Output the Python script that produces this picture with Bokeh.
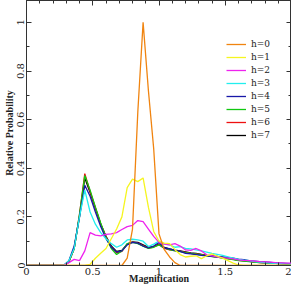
from bokeh.plotting import figure
from bokeh.models import (LinearAxis, Range1d, Legend, LegendItem,
                          SingleIntervalTicker, CustomJSTickFormatter)
from bokeh.embed import file_html
from bokeh.resources import INLINE

# Magnification bins
magnification = [0.00, 0.04, 0.08, 0.12, 0.16, 0.20, 0.24, 0.28, 0.32, 0.36,
                 0.40, 0.44, 0.48, 0.52, 0.56, 0.60, 0.64, 0.68, 0.72, 0.76,
                 0.80, 0.84, 0.88, 0.92, 0.96, 1.00, 1.04, 1.08, 1.12, 1.16,
                 1.20, 1.24, 1.28, 1.32, 1.36, 1.40, 1.44, 1.48, 1.52, 1.56,
                 1.60, 1.64, 1.68, 1.72, 1.76, 1.80, 1.84, 1.88, 1.92, 1.96,
                 2.00]

h0 = [0, 0, 0, 0, 0, 0, 0, 0, 0, 0,
      0, 0, 0, 0, 0, 0, 0, 0, 0, 0.03,
      0.15, 0.63, 1.0, 0.72, 0.48, 0.13, 0.065, 0.035, 0.012, 0,
      0, 0, 0, 0, 0, 0, 0, 0, 0, 0,
      0, 0, 0, 0, 0, 0, 0, 0, 0, 0,
      0]
h1 = [0, 0, 0, 0, 0, 0, 0, 0, 0, 0,
      0, 0, 0.005, 0.03, 0.05, 0.07, 0.11, 0.15, 0.2, 0.32,
      0.355, 0.345, 0.36, 0.24, 0.14, 0.1, 0.092, 0.09, 0.065, 0.045,
      0.035, 0.038, 0.04, 0.028, 0.04, 0.048, 0.038, 0.03, 0.02, 0.01,
      0.002, 0, 0, 0, 0, 0, 0, 0, 0, 0,
      0]
h2 = [0, 0, 0, 0, 0, 0, 0, 0, 0.012, 0.025,
      0.02, 0.06, 0.135, 0.125, 0.122, 0.128, 0.13, 0.135, 0.148, 0.16,
      0.165, 0.185, 0.18, 0.15, 0.12, 0.095, 0.088, 0.085, 0.09, 0.08,
      0.064, 0.062, 0.07, 0.06, 0.044, 0.04, 0.035, 0.032, 0.03, 0.027,
      0.023, 0.021, 0.02, 0.018, 0.016, 0.015, 0.014, 0.012, 0.011, 0.01,
      0.01]
h3 = [0, 0, 0, 0, 0, 0, 0, 0, 0.02, 0.07,
      0.2, 0.31, 0.22, 0.17, 0.135, 0.11, 0.09, 0.075, 0.085, 0.105,
      0.108, 0.105, 0.1, 0.078, 0.088, 0.1, 0.088, 0.085, 0.075, 0.078,
      0.07, 0.068, 0.064, 0.06, 0.055, 0.05, 0.046, 0.042, 0.035, 0.03,
      0.025, 0.022, 0.02, 0.016, 0.014, 0.012, 0.01, 0.009, 0.008, 0.007,
      0.006]
h4 = [0, 0, 0, 0, 0, 0, 0, 0, 0.02, 0.08,
      0.2, 0.33, 0.285, 0.22, 0.16, 0.11, 0.075, 0.055, 0.06, 0.085,
      0.095, 0.092, 0.08, 0.072, 0.08, 0.095, 0.072, 0.068, 0.062, 0.058,
      0.05, 0.048, 0.045, 0.042, 0.04, 0.038, 0.036, 0.035, 0.033, 0.03,
      0.026, 0.024, 0.02, 0.018, 0.016, 0.015, 0.013, 0.011, 0.01, 0.009,
      0.008]
h5 = [0, 0, 0, 0, 0, 0, 0, 0, 0.015, 0.07,
      0.21, 0.37, 0.31, 0.24, 0.175, 0.115, 0.07, 0.045, 0.06, 0.09,
      0.095, 0.09, 0.08, 0.07, 0.075, 0.085, 0.072, 0.065, 0.06, 0.057,
      0.053, 0.05, 0.047, 0.044, 0.04, 0.037, 0.034, 0.03, 0.027, 0.024,
      0.02, 0.018, 0.016, 0.014, 0.012, 0.011, 0.01, 0.009, 0.008, 0.007,
      0.006]
h6 = [0, 0, 0, 0, 0, 0, 0, 0, 0.015, 0.07,
      0.21, 0.378, 0.305, 0.238, 0.172, 0.118, 0.075, 0.052, 0.058, 0.088,
      0.096, 0.092, 0.082, 0.072, 0.076, 0.086, 0.07, 0.064, 0.061, 0.058,
      0.054, 0.05, 0.048, 0.045, 0.04, 0.038, 0.035, 0.031, 0.028, 0.025,
      0.021, 0.019, 0.017, 0.014, 0.012, 0.011, 0.01, 0.009, 0.008, 0.007,
      0.006]
h7 = [0, 0, 0, 0, 0, 0, 0, 0, 0.015, 0.07,
      0.2, 0.36, 0.3, 0.235, 0.17, 0.12, 0.08, 0.058, 0.062, 0.088,
      0.097, 0.095, 0.085, 0.075, 0.078, 0.088, 0.075, 0.068, 0.063, 0.06,
      0.056, 0.052, 0.05, 0.046, 0.042, 0.04, 0.037, 0.033, 0.03, 0.026,
      0.022, 0.02, 0.018, 0.015, 0.013, 0.012, 0.01, 0.009, 0.008, 0.007,
      0.006]

labels = ["h=0", "h=1", "h=2", "h=3", "h=4", "h=5", "h=6", "h=7"]
series = [h0, h1, h2, h3, h4, h5, h6, h7]
colors = ["#f08410", "#f5f520", "#ee22ee", "#22eeee", "#1818a8", "#10c810", "#ee1010", "#000000"]

for s in series:
    assert len(s) == len(magnification)

p = figure(width=291, height=286, output_backend="svg", toolbar_location=None,
           x_range=Range1d(0, 2), y_range=Range1d(0, 1.09),
           min_border_left=0, min_border_right=0, min_border_top=0, min_border_bottom=0,
           x_axis_label="Magnification", y_axis_label="Relative Probability")
p.xgrid.visible = False
p.ygrid.visible = False
p.outline_line_color = "#333333"

fmt = CustomJSTickFormatter(code="return String(Math.round(tick*10)/10);")
blank = CustomJSTickFormatter(code="return '';")


def style(ax):
    ax.axis_line_color = "#333333"
    ax.major_tick_line_color = "#333333"
    ax.minor_tick_line_color = "#333333"
    ax.major_tick_in = 5
    ax.major_tick_out = 0
    ax.minor_tick_in = 3
    ax.minor_tick_out = 0
    ax.major_label_text_font = "DejaVu Serif"
    ax.major_label_text_font_size = "10px"
    ax.major_label_text_color = "#222222"
    ax.axis_label_text_font = "Liberation Serif"
    ax.axis_label_text_font_size = "10px"
    ax.axis_label_text_font_style = "bold"
    ax.axis_label_text_color = "#222222"


xb = p.below[0]
yl = p.left[0]
xb.ticker = SingleIntervalTicker(interval=0.5, num_minor_ticks=5)
yl.ticker = SingleIntervalTicker(interval=0.2, num_minor_ticks=2)
xb.formatter = fmt
yl.formatter = fmt
style(xb)
style(yl)
xb.major_label_standoff = 2
xb.axis_label_standoff = -5
yl.major_label_standoff = 2
yl.axis_label_standoff = 0
yl.major_label_orientation = "vertical"

xt = LinearAxis(ticker=SingleIntervalTicker(interval=0.5, num_minor_ticks=5), formatter=blank)
yr = LinearAxis(ticker=SingleIntervalTicker(interval=0.2, num_minor_ticks=2), formatter=blank)
for ax in (xt, yr):
    style(ax)
    ax.major_label_text_font_size = "0px"
    ax.major_label_standoff = 0
    ax.axis_label_standoff = 0
p.add_layout(xt, "above")
p.add_layout(yr, "right")

renderers = [None] * 8
for i in reversed(range(8)):
    renderers[i] = p.line(magnification, series[i], line_color=colors[i], line_width=1.3)

legend = Legend(items=[LegendItem(label=labels[i], renderers=[renderers[i]]) for i in range(8)],
                location=(200, 124))
legend.border_line_color = None
legend.background_fill_alpha = 0
legend.padding = 0
legend.margin = 0
legend.spacing = 1
legend.glyph_width = 20
legend.glyph_height = 12
legend.label_height = 12
legend.label_standoff = 5
legend.label_text_font = "DejaVu Serif"
legend.label_text_font_size = "9px"
legend.label_text_color = "#222222"
p.add_layout(legend)

open("out.html", "w").write(file_html(p, INLINE))
